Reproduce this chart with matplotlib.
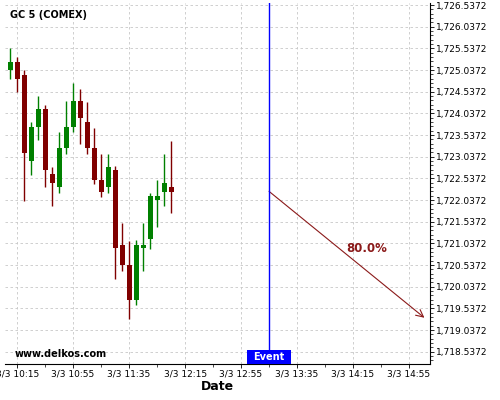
import matplotlib
matplotlib.use("Agg")
import matplotlib.pyplot as plt
import matplotlib.dates as mdates
import matplotlib.transforms as mtransforms
from matplotlib.patches import Rectangle
from matplotlib.ticker import MultipleLocator, FuncFormatter
import pandas as pd

# candles, 5 minute bars
times = pd.date_range("2020-03-03 10:10", periods=24, freq="5min")
opens = [1725.04, 1725.22, 1724.93, 1722.94, 1723.72, 1724.13, 1722.63, 1722.34,
         1723.23, 1723.72, 1724.32, 1723.83, 1723.23, 1722.51, 1722.34, 1722.72,
         1721.01, 1720.53, 1719.72, 1720.93, 1721.13, 1722.04, 1722.22, 1722.33]
highs = [1725.54, 1725.33, 1725.03, 1723.83, 1724.43, 1724.23, 1722.81, 1723.61,
         1724.32, 1724.74, 1724.60, 1724.31, 1723.71, 1723.11, 1723.11, 1722.82,
         1721.51, 1721.10, 1721.12, 1721.51, 1722.21, 1722.51, 1723.11, 1723.41]
lows = [1724.82, 1724.52, 1722.02, 1722.62, 1723.42, 1722.33, 1721.91, 1722.20,
        1723.11, 1723.61, 1723.32, 1723.11, 1722.41, 1722.10, 1722.20, 1720.22,
        1720.40, 1719.28, 1719.62, 1720.40, 1720.91, 1721.42, 1721.91, 1721.74]
closes = [1725.22, 1724.83, 1723.12, 1723.72, 1724.13, 1722.73, 1722.43, 1723.23,
          1723.72, 1724.32, 1723.93, 1723.23, 1722.51, 1722.22, 1722.81, 1720.93,
          1720.53, 1719.72, 1721.01, 1721.01, 1722.12, 1722.12, 1722.42, 1722.22]

event_time = pd.Timestamp("2020-03-03 13:15")
arrow_start = 1722.237
arrow_end_time = pd.Timestamp("2020-03-03 15:06")
arrow_end = 1719.32
prob_label = "80.0%"
prob_pos = (pd.Timestamp("2020-03-03 14:25"), 1720.92)

xmin = pd.Timestamp("2020-03-03 10:06:20")
xmax = pd.Timestamp("2020-03-03 15:10")
ymin, ymax = 1718.253, 1726.584

green = "#008000"
red = "#800000"
arrow_col = "#8b1a1a"

fig = plt.figure(figsize=(5, 4), dpi=100)
ax = fig.add_axes([0.01, 0.09, 0.85, 0.9025])

x = mdates.date2num(times)
bw = 3.6 / (24 * 60)
for xi, o, h, l, c in zip(x, opens, highs, lows, closes):
    col = green if c >= o else red
    ax.vlines(xi, l, h, color=col, lw=1.0, zorder=3)
    ax.bar(xi, abs(c - o), bottom=min(o, c), width=bw, color=col, zorder=4, linewidth=0)

# event line + label box
ev = mdates.date2num(event_time)
ax.axvline(ev, color="blue", lw=1.0, zorder=5)
trans = mtransforms.blended_transform_factory(ax.transData, ax.transAxes)
box_w = 31.5 / (24 * 60)
box_h = 14 / 361
ax.add_patch(Rectangle((ev - box_w / 2, 0), box_w, box_h, transform=trans,
                       facecolor="blue", edgecolor="none", zorder=6, clip_on=False))
ax.text(ev, box_h / 2, "Event", transform=trans, color="white", fontsize=7,
        fontweight="bold", ha="center", va="center", zorder=7)

# forecast arrow
ax.annotate("", xy=(mdates.date2num(arrow_end_time), arrow_end),
            xytext=(ev, arrow_start),
            arrowprops=dict(arrowstyle="->", color=arrow_col, lw=0.8,
                            shrinkA=0, shrinkB=0, mutation_scale=13))
ax.text(mdates.date2num(prob_pos[0]), prob_pos[1], prob_label, color=arrow_col,
        fontsize=8.5, fontweight="bold", ha="center", va="center")

ax.set_xlim(mdates.date2num(xmin), mdates.date2num(xmax))
ax.set_ylim(ymin, ymax)

# axes look
ax.spines["top"].set_visible(False)
ax.spines["left"].set_visible(False)
ax.yaxis.tick_right()
ax.yaxis.set_major_locator(MultipleLocator(0.5, offset=0.0372))
ax.yaxis.set_minor_locator(MultipleLocator(0.1, offset=0.0372))
ax.yaxis.set_major_formatter(FuncFormatter(lambda v, p: f"{v:,.4f}"))

ticks = pd.date_range("2020-03-03 10:15", "2020-03-03 14:55", freq="40min")
ax.set_xticks(mdates.date2num(ticks))
minor = pd.date_range("2020-03-03 10:15", "2020-03-03 15:10", freq="20min")
ax.set_xticks(mdates.date2num(minor), minor=True)
ax.xaxis.set_major_formatter(FuncFormatter(
    lambda v, p: (lambda d: f"{d.month}/{d.day} {d:%H:%M}")(mdates.num2date(v))))

ax.tick_params(axis="both", which="major", labelsize=6.5, length=3, width=0.6, pad=1)
ax.tick_params(axis="both", which="minor", length=2, width=0.5)
ax.grid(True, which="major", color="#c8c8c8", linestyle=(0, (3, 3)), lw=0.6)
ax.set_axisbelow(True)

ax.set_xlabel("Date", fontsize=9, fontweight="bold", labelpad=1)

fig.text(10 / 500, 1 - 15 / 400, "GC 5 (COMEX)", fontsize=7, fontweight="bold", va="center")
fig.text(15 / 500, 1 - 354 / 400, "www.delkos.com", fontsize=7, fontweight="bold", va="center")

fig.savefig("out.png", dpi=100)
